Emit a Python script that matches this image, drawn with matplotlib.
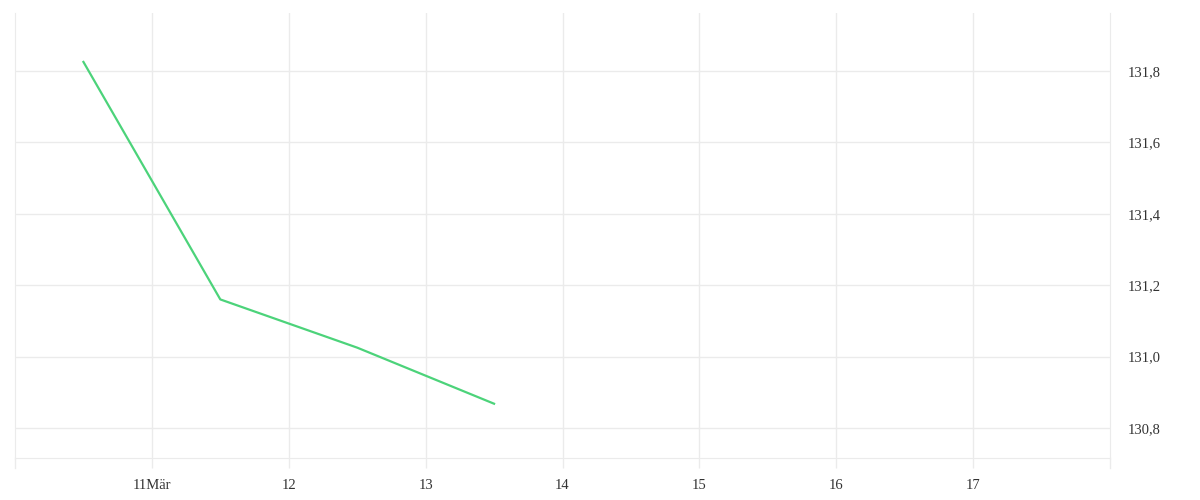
import matplotlib

matplotlib.use("Agg")
import matplotlib.pyplot as plt

# data: time in days of March (noon points), price
DAYS = [10.5, 11.5, 12.5, 13.5]
PRICES = [131.825, 131.16, 131.025, 130.868]

X_TICKS = [11, 12, 13, 14, 15, 16, 17]
X_LABELS = ["11Mär", "12", "13", "14", "15", "16", "17"]
Y_TICKS = [130.8, 131.0, 131.2, 131.4, 131.6, 131.8]
Y_LABELS = ["130,8", "131,0", "131,2", "131,4", "131,6", "131,8"]

GRID = "#ebebeb"
LINE = "#4cd37a"
TEXT = "#333333"

plt.rcParams["font.family"] = ["Liberation Serif", "DejaVu Serif"]

fig = plt.figure(figsize=(12, 5), dpi=100, facecolor="white")
# axes from x=15..1110 px, y=13..458 px
ax = fig.add_axes([15 / 1200, 1 - 458 / 500, (1110 - 15) / 1200, (458 - 13) / 500])

ax.plot(DAYS, PRICES, color=LINE, linewidth=1.6, solid_joinstyle="round", zorder=3)

ax.set_xlim(10, 18)
ax.set_ylim(130.716, 131.962)

ax.set_xticks(X_TICKS)
ax.set_xticklabels(X_LABELS)
ax.set_yticks(Y_TICKS)
ax.set_yticklabels(Y_LABELS)
ax.yaxis.tick_right()

ax.grid(True, color=GRID, linewidth=1.0)
ax.tick_params(axis="x", length=7.2, color=GRID, width=1.0, pad=8, labelsize=10.5, labelcolor=TEXT)
ax.tick_params(axis="y", length=0, pad=13, labelsize=10.5, labelcolor=TEXT)
for lbl in ax.get_yticklabels():
    lbl.set_verticalalignment("center_baseline")

ax.spines["top"].set_visible(False)
ax.spines["left"].set_color(GRID)
ax.spines["right"].set_color(GRID)
ax.spines["bottom"].set_color(GRID)

# left and right boundary lines extend down like the tick marks
for xv in (10, 18):
    ax.plot([xv, xv], [130.716, 130.716 - 10 / 357], color=GRID, linewidth=1.0, clip_on=False)

fig.savefig("out.png", dpi=100, facecolor="white")
